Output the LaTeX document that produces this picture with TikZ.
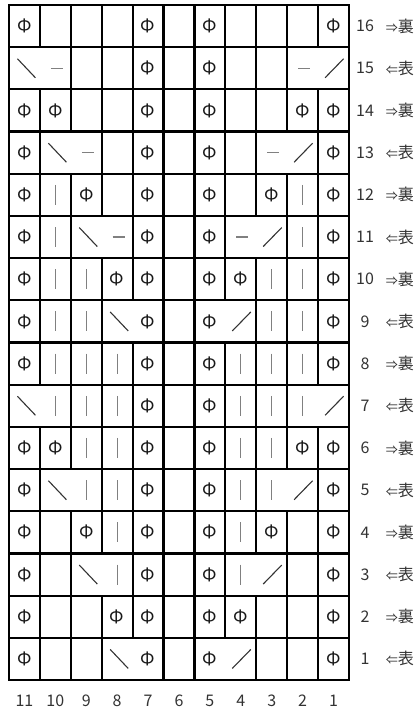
\documentclass[tikz,border=0pt]{standalone}
\usepackage{fontspec}
\newfontfamily\jp{Noto Sans CJK JP}
\def\cw{30.91}
\def\rh{42.1875}
\tikzset{
  gridline/.style={line width=2.2pt, black},
  sym/.style={font=\jp\fontsize{18}{18}\selectfont, inner sep=0pt, text=black!90},
  lbl/.style={font=\jp\fontsize{16}{16}\selectfont, inner sep=0pt, text=black!80},
  bar/.style={draw=black!50, line width=1.1pt},
  diag/.style={draw=black!80, line width=1.1pt},
}
\newcommand\mkP[1]{\node[sym] (c#1) at (\xc,\yc) {Φ};}
\newcommand\mkB[1]{\coordinate (c#1) at (\xc,\yc);}
\newcommand\mkV[1]{\coordinate (c#1) at (\xc,\yc);
  \draw[bar] ([yshift=10pt]c#1) -- ([yshift=-10pt]c#1);}
\newcommand\mkD[1]{\coordinate (c#1) at (\xc,\yc);
  \draw[bar] ([xshift=-4.5pt]c#1) -- ([xshift=7.5pt]c#1);}
\newcommand\mkL[1]{\coordinate (c#1) at (\xc,\yc);
  \draw[diag] ([xshift=-7pt,yshift=9.5pt]c#1) -- ([xshift=11pt,yshift=-9.5pt]c#1);}
\newcommand\mkR[1]{\coordinate (c#1) at (\xc,\yc);
  \draw[diag] ([xshift=-8.5pt,yshift=-9.5pt]c#1) -- ([xshift=10pt,yshift=9.5pt]c#1);}
\begin{document}
\begin{tikzpicture}[x=1pt,y=-1pt]
\useasboundingbox (0,0) rectangle (416,713);
\fill[white] (0,0) rectangle (416,713);
% horizontal lines
\foreach \i in {1,...,15} \draw[gridline] (9,5+\i*\rh) -- (349,5+\i*\rh);
\foreach \r/\b/\cells in {
  16/0/{P,B,B,B,P,B,P,B,B,B,P},
  15/1/{L,D,B,B,P,B,P,B,B,D,R},
  14/0/{P,P,B,B,P,B,P,B,B,P,P},
  13/2/{P,L,D,B,P,B,P,B,D,R,P},
  12/0/{P,V,P,B,P,B,P,B,P,V,P},
  11/3/{P,V,L,D,P,B,P,D,R,V,P},
  10/0/{P,V,V,P,P,B,P,P,V,V,P},
  9/4/{P,V,V,L,P,B,P,R,V,V,P},
  8/0/{P,V,V,V,P,B,P,V,V,V,P},
  7/1/{L,V,V,V,P,B,P,V,V,V,R},
  6/0/{P,P,V,V,P,B,P,V,V,P,P},
  5/2/{P,L,V,V,P,B,P,V,V,R,P},
  4/0/{P,B,P,V,P,B,P,V,P,B,P},
  3/3/{P,B,L,V,P,B,P,V,R,B,P},
  2/0/{P,B,B,P,P,B,P,P,B,B,P},
  1/4/{P,B,B,L,P,B,P,R,B,B,P}}{
  \pgfmathsetmacro\yt{5+(16-\r)*\rh}
  \pgfmathsetmacro\yc{\yt+\rh/2}
  \pgfmathsetmacro\yb{\yt+\rh}
  \foreach \t [count=\j from 0] in \cells {
    \pgfmathsetmacro\xc{9+(\j+0.5)*\cw}
    \csname mk\t\endcsname{\r-\j}
  }
  \foreach \k in {1,...,10}{
    \pgfmathtruncatemacro\skp{(\k==\b)||(\k==11-\b)}
    \ifnum\skp=0 \draw[gridline] (9+\k*\cw,\yt) -- (9+\k*\cw,\yb);\fi
  }
  \node[lbl] (n\r) at (365,\yc) {\r};
  \ifodd\r
    \node[lbl,anchor=east] (s\r) at (414,\yc) {{\fontsize{12}{12}\selectfont ⇐}表};
  \else
    \node[lbl,anchor=east] (s\r) at (414,\yc) {{\fontsize{12}{12}\selectfont ⇒}裏};
  \fi
}
\draw[gridline] (9,5) rectangle (349,680);
\foreach \n [count=\j from 0] in {11,10,...,1}
  \node[lbl] (b\n) at (9+\j*\cw+0.5*\cw,701) {\n};
\end{tikzpicture}
\end{document}
